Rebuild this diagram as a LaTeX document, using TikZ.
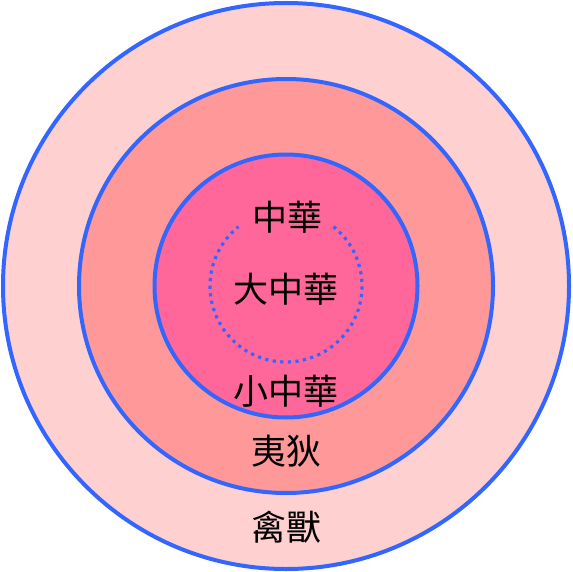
\documentclass[tikz,border=0pt]{standalone}
\usepackage{fontspec}
\newfontfamily\cjk{Noto Sans CJK TC}
\definecolor{ringblue}{HTML}{3366FF}
\definecolor{outerfill}{HTML}{FFD0D0}
\definecolor{midfill}{HTML}{FF9999}
\definecolor{innerfill}{HTML}{FF6699}
\tikzset{
  ring/.style={draw=ringblue, line width=4pt},
  lbl/.style={font=\cjk\fontsize{35}{35}\selectfont, text=black, inner sep=0pt}
}
\begin{document}
\begin{tikzpicture}[x=1pt,y=-1pt]
\useasboundingbox (0,0) rectangle (572,572);
\fill[white] (0,0) rectangle (572,572);
\coordinate (c) at (286,286);
\draw[ring, fill=outerfill] (c) circle[radius=283];
\draw[ring, fill=midfill] (c) circle[radius=207];
\draw[ring, fill=innerfill] (c) circle[radius=131.5];
\draw[draw=ringblue, line width=3.2pt, dash pattern=on 3.2pt off 4.4pt]
  ([shift={(-51.3:76)}]c) arc[start angle=-51.3, end angle=231.3, radius=76];
\node[lbl] (zh) at (287,217) {中華};
\node[lbl] (dzh) at (286,289) {大中華};
\node[lbl] (xzh) at (286,391) {小中華};
\node[lbl] (yd) at (286,451) {夷狄};
\node[lbl] (qs) at (286,527) {禽獸};
\end{tikzpicture}
\end{document}
